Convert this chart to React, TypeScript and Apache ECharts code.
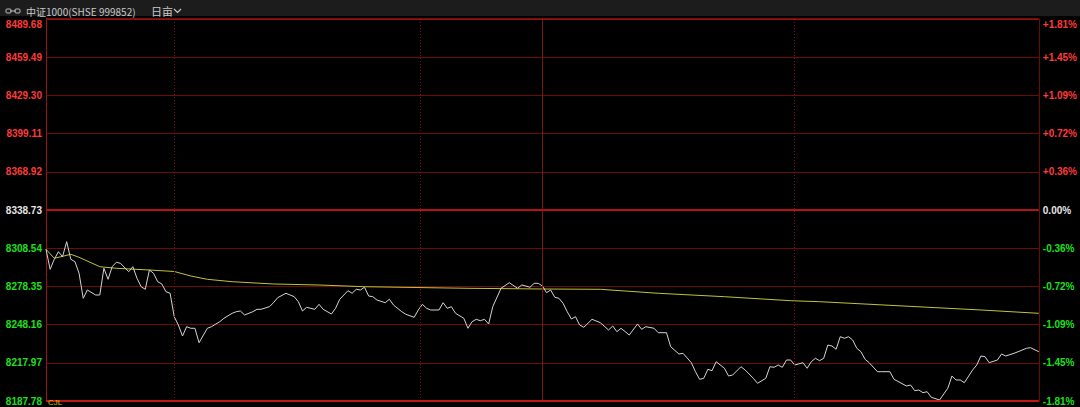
import React, { useEffect, useRef } from "react";
import * as echarts from "echarts";

// previous close (0.00% line)
const prevClose = 8338.73;
const axisHalfRange = 150.95;
const axisStep = 30.19;

// intraday price trace: [minute since open, price]
const priceTrace: [number, number][] = [
  [0, 8307.67], [1, 8291.86], [2, 8299.77], [3, 8305.77], [4, 8301.82], [5, 8313.68],
  [6, 8299.77], [7, 8297.87], [8, 8288.7], [9, 8268.95], [10, 8275.51], [12, 8271.55],
  [13, 8271.55], [14, 8292.66], [15, 8283.96], [16, 8293.92], [17, 8297.4], [18, 8296.61],
  [20, 8289.97], [21, 8293.92], [22, 8284.75], [23, 8278.11], [24, 8276.06], [25, 8291.31],
  [26, 8288.7], [27, 8282.07], [28, 8280.25], [29, 8274.16], [30, 8272.9], [31, 8254.4],
  [32, 8247.84], [33, 8239.15], [34, 8246.5], [35, 8245.24], [36, 8245.24], [37, 8233.86],
  [39, 8245.24], [40, 8246.5], [42, 8250.45], [43, 8253.14], [45, 8257.09], [46, 8258.36],
  [47, 8258.91], [48, 8255.75], [50, 8258.36], [51, 8260.25], [52, 8260.25], [54, 8262.31],
  [55, 8265.47], [56, 8269.42], [58, 8272.9], [60, 8270.21], [61, 8266.26], [62, 8258.91],
  [63, 8261.83], [65, 8260.25], [66, 8264.2], [67, 8260.25], [69, 8256.54], [70, 8261.04],
  [71, 8268.16], [73, 8274.95], [74, 8272.9], [75, 8276.06], [76, 8275.51], [77, 8277.64],
  [78, 8270.76], [79, 8270.21], [80, 8267.6], [82, 8265.47], [83, 8268.16], [84, 8263.65],
  [86, 8258.36], [87, 8256.3], [89, 8253.93], [90, 8259.7], [91, 8264.2], [92, 8261.04],
  [93, 8259.7], [95, 8259.7], [96, 8265.47], [97, 8261.04], [98, 8262.31], [99, 8257.09],
  [101, 8253.14], [102, 8245.24], [103, 8250.45], [104, 8252.35], [105, 8251.24], [106, 8252.35],
  [107, 8248.63], [108, 8262.31], [110, 8276.85], [112, 8281.27], [114, 8276.85], [115, 8279.46],
  [116, 8278.67], [117, 8277.64], [118, 8280.8], [119, 8280.8], [120, 8278.67], [121, 8273.37],
  [122, 8275.51], [123, 8269.74], [124, 8268.95], [125, 8264.99], [126, 8258.36], [127, 8252.59],
  [128, 8254.4], [129, 8247.84], [130, 8246.03], [132, 8252.35], [134, 8249.66], [136, 8243.89],
  [137, 8247.05], [138, 8242.55], [139, 8245.24], [141, 8239.94], [143, 8248.63], [144, 8244.45],
  [145, 8246.5], [147, 8245.24], [148, 8241.76], [150, 8241.76], [151, 8230.69], [153, 8224.93],
  [154, 8225.48], [156, 8218.05], [157, 8210.94], [158, 8204.93], [159, 8205.72], [160, 8212.83],
  [161, 8211.73], [162, 8218.84], [164, 8213.62], [165, 8207.54], [166, 8208.33], [168, 8214.89],
  [169, 8212.28], [171, 8205.72], [172, 8201.77], [174, 8205.72], [175, 8214.89], [176, 8214.41],
  [177, 8216.23], [178, 8214.41], [179, 8220.18], [180, 8220.18], [181, 8216.23], [183, 8218.05],
  [184, 8213.62], [185, 8218.84], [186, 8221.53], [187, 8219.63], [188, 8221.53], [189, 8232.04],
  [190, 8231.25], [191, 8228.64], [192, 8238.6], [193, 8237.33], [194, 8238.6], [195, 8235.99],
  [196, 8229.43], [197, 8226.74], [198, 8220.74], [199, 8218.05], [201, 8210.94], [202, 8210.94],
  [204, 8210.94], [205, 8204.93], [208, 8199.64], [209, 8200.43], [210, 8195.92], [211, 8196.47],
  [212, 8194.34], [213, 8195.13], [214, 8190.71], [216, 8188.57], [218, 8197.82], [219, 8207.54],
  [220, 8204.38], [221, 8204.38], [222, 8202.24], [224, 8212.28], [225, 8216.23], [226, 8223.34],
  [227, 8222.79], [228, 8218.05], [230, 8220.18], [231, 8224.93], [232, 8223.34], [234, 8225.48],
  [235, 8226.74], [237, 8229.43], [238, 8229.9], [240, 8226.74],
];

// average price trace: [minute since open, price]
const avgTrace: [number, number][] = [
  [0, 8307.67], [2, 8300.56], [6, 8303.72], [8, 8301.35], [13, 8293.92], [17, 8292.66],
  [25, 8291.31], [31, 8290.13], [35, 8286.57], [39, 8283.96], [45, 8282.07], [55, 8280.25],
  [66, 8279.46], [77, 8278.11], [102, 8276.85], [120, 8276.3], [134, 8276.06], [148, 8272.9],
  [164, 8270.21], [180, 8267.05], [187, 8266.26], [226, 8259.7], [240, 8257.09],
];

// time dividers (minutes since open)
const dottedDividers = [31, 90.5, 181];
const middayDivider = 120;
const totalMinutes = 240;

const titleText = "中证1000(SHSE 999852)";
const periodText = "日亩";
const volumeText = "CJL";

const RED = "#ff3a3a";
const GREEN = "#1ee01e";
const WHITE = "#e6e6e6";

export default function App() {
  const ref = useRef<HTMLDivElement>(null);
  useEffect(() => {
    if (!ref.current) return;
    const chart = echarts.init(ref.current, null, { renderer: "svg" });
    const toOffset = (d: [number, number][]) => d.map(([t, p]) => [t, +(p - prevClose).toFixed(2)]);
    const labelColor = (v: any) => {
      const n = Number(v);
      if (n > 0.001) return RED;
      if (n < -0.001) return GREEN;
      return WHITE;
    };
    const baseAxis = {
      type: "value" as const,
      min: -axisHalfRange,
      max: axisHalfRange,
      interval: axisStep,
      axisTick: { show: false },
    };
    chart.setOption({
      animation: false,
      backgroundColor: "#000000",
      grid: { left: 46, right: 40, top: 19, bottom: 6, containLabel: false },
      xAxis: {
        type: "value",
        min: 0,
        max: totalMinutes,
        show: false,
        splitLine: { show: false },
      },
      yAxis: [
        {
          ...baseAxis,
          position: "left",
          axisLine: { show: true, lineStyle: { color: "#9a1414", width: 1 } },
          splitLine: { show: true, lineStyle: { color: "#6a0c0c", width: 1 } },
          axisLabel: {
            margin: 4,
            fontSize: 10,
            fontWeight: "bold",
            fontFamily: "Liberation Sans, Arial, sans-serif",
            color: labelColor,
            verticalAlignMaxLabel: "top",
            formatter: (v: number) => (prevClose + v).toFixed(2),
          },
        },
        {
          ...baseAxis,
          position: "right",
          axisLine: { show: true, lineStyle: { color: "#6a0c0c", width: 1 } },
          splitLine: { show: false },
          axisLabel: {
            margin: 4,
            fontSize: 10,
            fontWeight: "bold",
            fontFamily: "Liberation Sans, Arial, sans-serif",
            color: labelColor,
            verticalAlignMaxLabel: "top",
            formatter: (v: number) => {
              const pct = (v / prevClose) * 100;
              const s = Math.abs(pct) < 0.005 ? "0.00" : pct.toFixed(2);
              return (pct > 0.005 ? "+" : "") + s + "%";
            },
          },
        },
      ],
      series: [
        {
          type: "line",
          data: [],
          z: 1,
          silent: true,
          markLine: {
            silent: true,
            symbol: "none",
            label: { show: false },
            animation: false,
            data: [
              ...dottedDividers.map((m) => ({
                xAxis: m,
                lineStyle: { color: "#7a1212", width: 1, type: [1, 2] },
              })),
              { xAxis: middayDivider, lineStyle: { color: "#7a1616", width: 1, type: "solid" } },
              { yAxis: 0, lineStyle: { color: "#b01414", width: 2, type: "solid" } },
              { yAxis: axisHalfRange, lineStyle: { color: "#a01212", width: 1.5, type: "solid" } },
              { yAxis: -axisHalfRange, lineStyle: { color: "#c01616", width: 2, type: "solid" } },
            ],
          },
        },
        {
          name: "均价",
          type: "line",
          data: toOffset(avgTrace),
          showSymbol: false,
          z: 2,
          lineStyle: { color: "#c2c23a", width: 1 },
        },
        {
          name: "价格",
          type: "line",
          data: toOffset(priceTrace),
          showSymbol: false,
          z: 3,
          lineStyle: { color: "#d4d4d4", width: 1 },
        },
      ],
      graphic: [
        { type: "rect", shape: { x: 0, y: 0, width: 1080, height: 16 }, style: { fill: "#1c1c1c" }, z: 10 },
        { type: "rect", shape: { x: 6, y: 9, width: 5, height: 4, r: 1 }, style: { fill: "none", stroke: "#bdbdbd", lineWidth: 1 }, z: 11 },
        { type: "rect", shape: { x: 15, y: 9, width: 5, height: 4, r: 1 }, style: { fill: "none", stroke: "#bdbdbd", lineWidth: 1 }, z: 11 },
        { type: "line", shape: { x1: 10, y1: 11, x2: 16, y2: 11 }, style: { stroke: "#bdbdbd", lineWidth: 1 }, z: 11 },
        {
          type: "text",
          x: 26,
          y: 11,
          z: 11,
          style: {
            text: titleText,
            fill: "#c8c8c8",
            font: "10px 'Noto Sans CJK SC', sans-serif",
            verticalAlign: "middle",
          },
        },
        {
          type: "text",
          x: 151,
          y: 11,
          z: 11,
          style: {
            text: periodText,
            fill: "#c8c8c8",
            font: "11px 'Noto Sans CJK SC', sans-serif",
            verticalAlign: "middle",
          },
        },
        {
          type: "polyline",
          z: 11,
          shape: { points: [[174, 9], [177.5, 12.5], [181, 9]] },
          style: { stroke: "#c8c8c8", lineWidth: 1.2, fill: "none" },
        },
        {
          type: "text",
          x: 48,
          y: 398,
          z: 11,
          style: { text: volumeText, fill: "#d8c400", font: "8px sans-serif", verticalAlign: "top" },
        },
      ],
    });
    return () => chart.dispose();
  }, []);
  return (
    <div
      ref={ref}
      style={{ position: "fixed", left: 0, top: 0, width: 1080, height: 407, background: "#000" }}
    />
  );
}
